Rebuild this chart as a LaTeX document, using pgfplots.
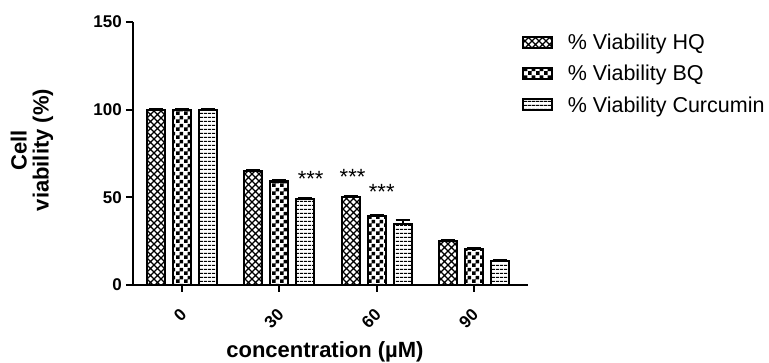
\documentclass[border=0pt]{standalone}
\usepackage{fontspec}
\setmainfont{Liberation Sans}
\usepackage{pgfplots}
\pgfplotsset{compat=1.18}
\usetikzlibrary{patterns}

\pgfdeclarepatternformonly{hqcross}{\pgfpoint{-0.5pt}{-0.5pt}}{\pgfpoint{7.5pt}{7.5pt}}{\pgfpoint{7pt}{7pt}}{%
  \pgfsetlinewidth{1.3pt}%
  \pgfpathmoveto{\pgfpoint{0pt}{0pt}}\pgfpathlineto{\pgfpoint{7pt}{7pt}}%
  \pgfpathmoveto{\pgfpoint{0pt}{7pt}}\pgfpathlineto{\pgfpoint{7pt}{0pt}}%
  \pgfusepath{stroke}}
\pgfdeclarepatternformonly{bqcheck}{\pgfpointorigin}{\pgfpoint{8pt}{8pt}}{\pgfpoint{8pt}{8pt}}{%
  \pgfpathrectangle{\pgfpointorigin}{\pgfpoint{4pt}{4pt}}%
  \pgfpathrectangle{\pgfpoint{4pt}{4pt}}{\pgfpoint{4pt}{4pt}}%
  \pgfusepath{fill}}
\pgfdeclarepatternformonly{curlines}{\pgfpoint{0pt}{0pt}}{\pgfpoint{4pt}{4pt}}{\pgfpoint{4pt}{4pt}}{%
  \pgfsetlinewidth{1.2pt}%
  \pgfpathmoveto{\pgfpoint{0pt}{2pt}}\pgfpathlineto{\pgfpoint{4pt}{2pt}}%
  \pgfusepath{stroke}}

\pgfplotstableread{
x  hq   hqe  bq   bqe  cu   cue
0  100  0.3  100  0.3  100  0.3
1  65   0.6  59   0.6  49   0.5
2  50   0.5  39.5 0.5  35   1.8
3  25   0.4  20.5 0.6  13.5 0.9
}\datatable

\begin{document}
\begin{tikzpicture}
\path[use as bounding box] (-133pt,-78pt) rectangle (636pt,285pt);
\begin{axis}[
  at={(0pt,0pt)}, anchor=south west,
  scale only axis,
  width=395pt, height=263pt,
  xmin=-0.504, xmax=3.555,
  ymin=0, ymax=150,
  axis x line*=bottom, axis y line*=left,
  axis line style={line width=2pt},
  ytick={0,50,100,150},
  xtick={0,1,2,3},
  xticklabels={0,30,60,90},
  tick align=outside,
  major tick length=7pt,
  tick style={line width=2pt, black},
  /pgf/number format/assume math mode=true,
  yticklabel style={font=\fontsize{17}{17}\selectfont\bfseries, inner sep=0pt, xshift=-4pt},
  xticklabel style={font=\fontsize{17}{17}\selectfont\bfseries, yshift=-15pt, xshift=-3pt, rotate=45, anchor=north east, inner sep=0pt},
  xlabel={concentration (µM)},
  xlabel style={font=\fontsize{22}{22}\selectfont\bfseries, at={(axis description cs:0.486,-0.255)}, anchor=center},
  ylabel={Cell\\viability (\%)},
  ylabel style={font=\fontsize{22}{22}\selectfont\bfseries, align=center, at={(axis description cs:-0.256,0.513)}, anchor=center},
  ybar,
  bar width=18pt,
  every axis plot/.append style={draw=black, line width=2.2pt},
  error bars/error mark=|,
  error bars/error bar style={line width=2pt, black},
  error bars/error mark options={black, line width=2pt, mark size=7pt},
  legend style={at={(axis description cs:0.985,0.956)}, anchor=north west, draw=none, fill=none,
    inner sep=0pt, font=\fontsize{21.5}{21.5}\selectfont, row sep=13pt,
    nodes={inner sep=0.5pt},
    /tikz/every odd column/.append style={column sep=14pt}},
  legend cell align=left,
  legend image code/.code={\draw[#1, line width=2pt] (0pt,-5.5pt) rectangle (29pt,6pt);},
  clip=false,
]
\addplot[bar shift=-26pt, pattern=hqcross, pattern color=black,
  error bars/.cd, y dir=plus, y explicit]
  table[x=x, y=hq, y error=hqe] {\datatable};
\addplot[bar shift=0pt, pattern=bqcheck, pattern color=black,
  error bars/.cd, y dir=plus, y explicit]
  table[x=x, y=bq, y error=bqe] {\datatable};
\addplot[bar shift=26pt, pattern=curlines, pattern color=black,
  error bars/.cd, y dir=plus, y explicit]
  table[x=x, y=cu, y error=cue] {\datatable};
\legend{\% Viability HQ, \% Viability BQ, \% Viability Curcumin}
\node[font=\fontsize{22}{22}\selectfont, inner sep=0pt] at (axis cs:1.321,60.3) {***};
\node[font=\fontsize{22}{22}\selectfont, inner sep=0pt] at (axis cs:1.752,61.6) {***};
\node[font=\fontsize{22}{22}\selectfont, inner sep=0pt] at (axis cs:2.052,53.0) {***};
\end{axis}
\end{tikzpicture}
\end{document}
